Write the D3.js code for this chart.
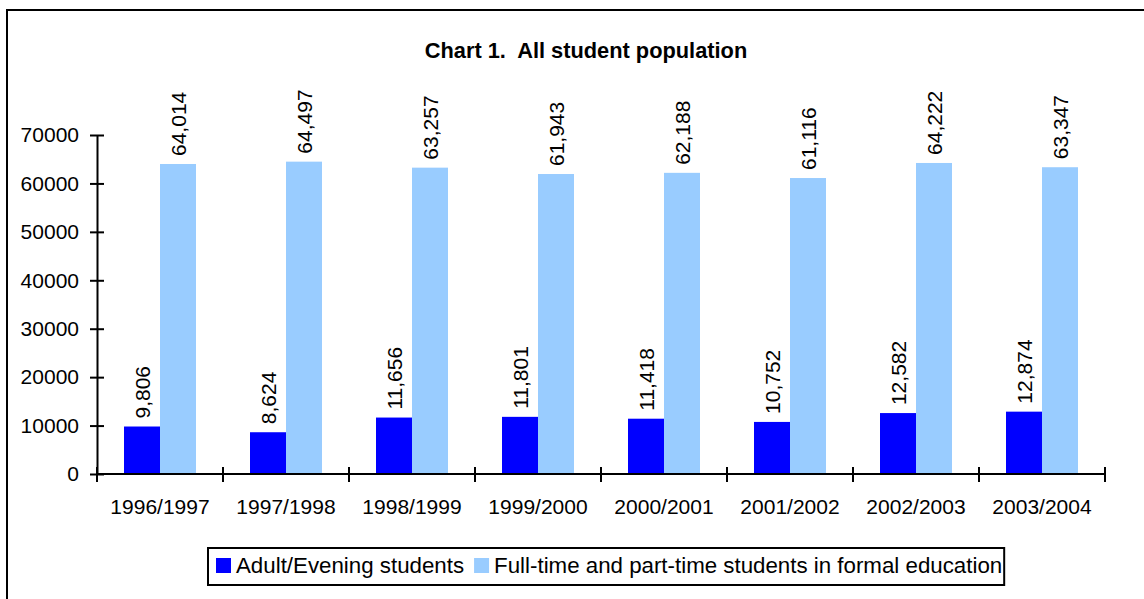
<!DOCTYPE html>
<html>
<head>
<meta charset="utf-8">
<script src="https://cdn.jsdelivr.net/npm/d3@7"></script>
<style>
  body { margin: 0; background: #fff; }
  svg { display: block; font-family: "Liberation Sans", Arial, sans-serif; }
</style>
</head>
<body>
<svg width="1144" height="599"></svg>
<script>
// data
var years = ["1996/1997", "1997/1998", "1998/1999", "1999/2000", "2000/2001", "2001/2002", "2002/2003", "2003/2004"];
var adultEvening = [9806, 8624, 11656, 11801, 11418, 10752, 12582, 12874];
var formalEducation = [64014, 64497, 63257, 61943, 62188, 61116, 64222, 63347];
var seriesNames = ["Adult/Evening students", "Full-time and part-time students in formal education"];
var seriesColors = ["#0000ff", "#99ccff"];
var yTicks = [0, 10000, 20000, 30000, 40000, 50000, 60000, 70000];

var svg = d3.select("svg"),
    plotLeft = 97, plotRight = 1105, plotTop = 135, plotBottom = 474;

// outer chart frame (runs off right and bottom edges)
svg.append("path")
    .attr("d", "M7,600 L7,10 L1150,10")
    .attr("fill", "none")
    .attr("stroke", "#000")
    .attr("stroke-width", 2);

svg.append("text")
    .attr("x", 586)
    .attr("y", 58)
    .attr("text-anchor", "middle")
    .style("font-size", "21.8px")
    .style("font-weight", "bold")
    .style("white-space", "pre")
    .text("Chart 1.  All student population");

var x0 = d3.scaleBand()
    .domain(years)
    .range([plotLeft, plotRight])
    .paddingInner(54 / 126)
    .paddingOuter(27 / 126);

var x1 = d3.scaleBand()
    .domain([0, 1])
    .range([0, x0.bandwidth()]);

var y = d3.scaleLinear()
    .domain([0, 70000])
    .range([plotBottom, plotTop]);

var rows = years.map(function(yr, i) {
  return { year: yr, values: [adultEvening[i], formalEducation[i]] };
});

var groups = svg.append("g").selectAll("g")
  .data(rows)
  .enter().append("g")
    .attr("transform", function(d) { return "translate(" + x0(d.year) + ",0)"; });

groups.selectAll("rect")
  .data(function(d) { return d.values; })
  .enter().append("rect")
    .attr("x", function(d, i) { return x1(i); })
    .attr("y", function(d) { return y(d); })
    .attr("width", x1.bandwidth())
    .attr("height", function(d) { return plotBottom - y(d); })
    .attr("fill", function(d, i) { return seriesColors[i]; });

var fmt = d3.format(",");

groups.selectAll("text")
  .data(function(d) { return d.values; })
  .enter().append("text")
    .attr("transform", function(d, i) {
      return "translate(" + (x1(i) + x1.bandwidth() / 2) + "," + (y(d) - 8) + ") rotate(-90)";
    })
    .attr("dy", "0.36em")
    .style("font-size", "21px")
    .text(function(d) { return fmt(d); });

// y axis
var yAxis = svg.append("g")
    .attr("transform", "translate(" + plotLeft + ",0)")
    .call(d3.axisLeft(y).tickValues(yTicks).tickFormat(d3.format("d")).tickSizeInner(7).tickSizeOuter(0));
yAxis.select(".domain").attr("stroke-width", 2);
yAxis.selectAll(".tick line").attr("x2", 7).attr("x1", -7).attr("stroke-width", 2);
yAxis.selectAll(".tick text")
    .attr("x", -18)
    .style("font-size", "21px")
    .style("font-family", "'Liberation Sans', Arial, sans-serif")
    .attr("fill", "#000");

// x axis, ticks between categories
var xAxis = svg.append("g")
    .attr("transform", "translate(0," + plotBottom + ")");
xAxis.append("line")
    .attr("x1", plotLeft).attr("x2", plotRight)
    .attr("stroke", "#000").attr("stroke-width", 2);
xAxis.selectAll(".sep")
  .data(d3.range(years.length + 1))
  .enter().append("line")
    .attr("x1", function(i) { return plotLeft + i * x0.step(); })
    .attr("x2", function(i) { return plotLeft + i * x0.step(); })
    .attr("y1", -7).attr("y2", 8)
    .attr("stroke", "#000").attr("stroke-width", 2);
xAxis.selectAll(".lbl")
  .data(years)
  .enter().append("text")
    .attr("x", function(d) { return x0(d) + x0.bandwidth() / 2; })
    .attr("y", 40)
    .attr("text-anchor", "middle")
    .style("font-size", "21px")
    .text(function(d) { return d; });

// legend
var legend = svg.append("g");
var box = legend.append("rect")
    .attr("x", 208).attr("y", 548)
    .attr("height", 37)
    .attr("fill", "#fff")
    .attr("stroke", "#000")
    .attr("stroke-width", 2);

var cx = 216;
seriesNames.forEach(function(name, i) {
  legend.append("rect")
      .attr("x", cx).attr("y", 558)
      .attr("width", 15).attr("height", 15)
      .attr("fill", seriesColors[i]);
  var t = legend.append("text")
      .attr("x", cx + 20).attr("y", 573)
      .style("font-size", "22.3px")
      .text(name);
  cx = cx + 20 + t.node().getComputedTextLength() + 10;
});
box.attr("width", cx - 10 + 2 - 208);
</script>
</body>
</html>
